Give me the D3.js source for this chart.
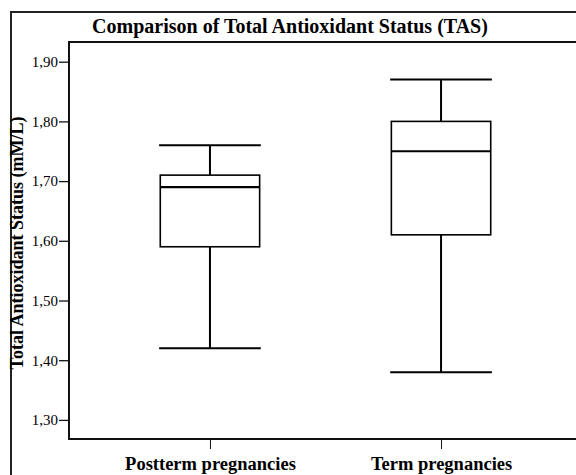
<!DOCTYPE html>
<html>
<head>
<meta charset="utf-8">
<script src="https://cdn.jsdelivr.net/npm/d3@7"></script>
<style>
  body { margin: 0; background: #fff; }
  svg text { font-family: "Liberation Serif", "Times New Roman", serif; fill: #000; }
</style>
</head>
<body>
<div id="chart"></div>
<script>
var svgWidth = 576;
var svgHeight = 475;

// data
var groups = ["Postterm pregnancies", "Term pregnancies"];
var whiskerLow = [1.42, 1.38];
var q1 = [1.59, 1.61];
var median = [1.69, 1.75];
var q3 = [1.71, 1.80];
var whiskerHigh = [1.76, 1.87];
var yTicks = [1.30, 1.40, 1.50, 1.60, 1.70, 1.80, 1.90];

var plot = { left: 69, top: 42, right: 582, bottom: 439 };

var svg = d3.select("#chart")
  .append("svg")
  .attr("width", svgWidth)
  .attr("height", svgHeight);

// outer frame (cropped on right / bottom)
svg.append("rect")
  .attr("x", 11)
  .attr("y", 12)
  .attr("width", 600)
  .attr("height", 500)
  .attr("fill", "none")
  .attr("stroke", "#222")
  .attr("stroke-width", 2);

svg.append("text")
  .attr("x", 290)
  .attr("y", 33)
  .attr("text-anchor", "middle")
  .style("font-size", "20px")
  .style("font-weight", "bold")
  .text("Comparison of Total Antioxidant Status (TAS)");

var xScale = d3.scalePoint()
  .domain(groups)
  .range([plot.left, plot.right])
  .padding(0.61);

var yScale = d3.scaleLinear()
  .domain([1.268, 1.933])
  .range([plot.bottom, plot.top]);

var step = xScale.step();
var boxW = step * 0.43;
var capW = step * 0.22;

// y axis
var yAxis = svg.append("g")
  .attr("transform", `translate(${plot.left}, 0)`)
  .call(d3.axisLeft(yScale)
    .tickValues(yTicks)
    .tickSize(10)
    .tickPadding(1)
    .tickFormat(d => d3.format(".2f")(d).replace(".", ",")));
yAxis.select(".domain").remove();
yAxis.selectAll("line").attr("stroke", "#111").attr("stroke-width", 1.3);
yAxis.selectAll("text")
  .style("font-size", "15px")
  .style("font-family", "Liberation Serif, serif");

// x axis
var xAxis = svg.append("g")
  .attr("transform", `translate(0, ${plot.bottom})`)
  .call(d3.axisBottom(xScale).tickSize(10).tickPadding(8));
xAxis.select(".domain").remove();
xAxis.selectAll("line").attr("stroke", "#111").attr("stroke-width", 1);
xAxis.selectAll("text")
  .style("font-size", "18.5px")
  .style("font-weight", "bold")
  .style("font-family", "Liberation Serif, serif");

// plot frame
svg.append("rect")
  .attr("x", plot.left)
  .attr("y", plot.top)
  .attr("width", plot.right - plot.left)
  .attr("height", plot.bottom - plot.top)
  .attr("fill", "none")
  .attr("stroke", "#111")
  .attr("stroke-width", 2);

// y label
svg.append("text")
  .attr("transform", `translate(23, 243) rotate(-90)`)
  .attr("text-anchor", "middle")
  .style("font-size", "18px")
  .style("font-weight", "bold")
  .text("Total Antioxidant Status (mM/L)");

// boxes
var boxes = svg.append("g")
  .selectAll("g")
  .data(groups)
  .enter()
  .append("g");

boxes.append("line")
  .attr("x1", d => xScale(d))
  .attr("x2", d => xScale(d))
  .attr("y1", (d, i) => yScale(whiskerHigh[i]))
  .attr("y2", (d, i) => yScale(q3[i]))
  .attr("stroke", "#000")
  .attr("stroke-width", 2);

boxes.append("line")
  .attr("x1", d => xScale(d))
  .attr("x2", d => xScale(d))
  .attr("y1", (d, i) => yScale(q1[i]))
  .attr("y2", (d, i) => yScale(whiskerLow[i]))
  .attr("stroke", "#000")
  .attr("stroke-width", 2);

boxes.append("line")
  .attr("x1", d => xScale(d) - capW)
  .attr("x2", d => xScale(d) + capW)
  .attr("y1", (d, i) => yScale(whiskerHigh[i]))
  .attr("y2", (d, i) => yScale(whiskerHigh[i]))
  .attr("stroke", "#000")
  .attr("stroke-width", 2);

boxes.append("line")
  .attr("x1", d => xScale(d) - capW)
  .attr("x2", d => xScale(d) + capW)
  .attr("y1", (d, i) => yScale(whiskerLow[i]))
  .attr("y2", (d, i) => yScale(whiskerLow[i]))
  .attr("stroke", "#000")
  .attr("stroke-width", 2);

boxes.append("rect")
  .attr("x", d => xScale(d) - boxW / 2)
  .attr("width", boxW)
  .attr("y", (d, i) => yScale(q3[i]))
  .attr("height", (d, i) => yScale(q1[i]) - yScale(q3[i]))
  .attr("fill", "#fff")
  .attr("stroke", "#000")
  .attr("stroke-width", 1.6);

boxes.append("line")
  .attr("x1", d => xScale(d) - boxW / 2)
  .attr("x2", d => xScale(d) + boxW / 2)
  .attr("y1", (d, i) => yScale(median[i]))
  .attr("y2", (d, i) => yScale(median[i]))
  .attr("stroke", "#000")
  .attr("stroke-width", 2.2);
</script>
</body>
</html>
